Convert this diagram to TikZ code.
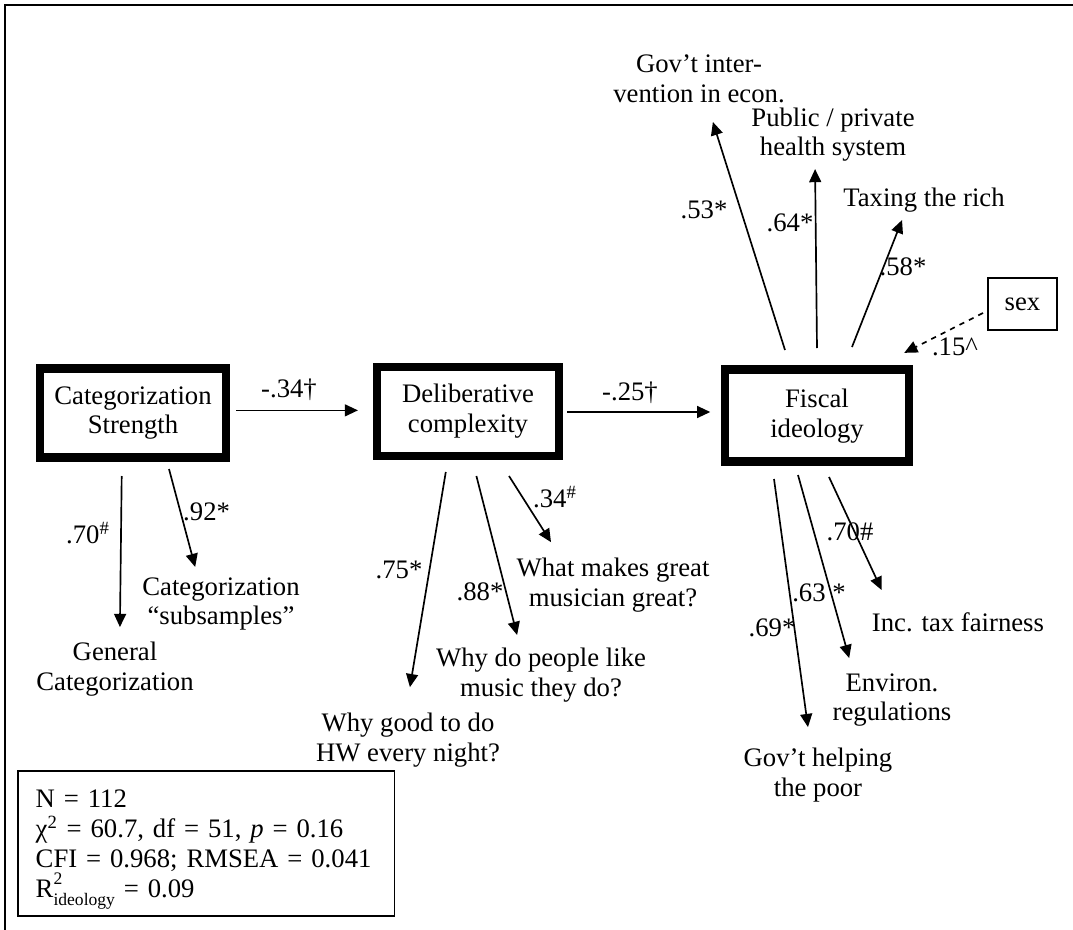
\documentclass[tikz,border=0pt]{standalone}
\usepackage{fontspec}
\setmainfont{Liberation Serif}
\usetikzlibrary{arrows.meta}

\begin{document}
\begin{tikzpicture}[x=0.02cm,y=-0.02cm,font=\fontsize{15.2}{17}\selectfont,
  latent/.style={draw,line width=4.8pt,align=center,inner sep=0pt},
  item/.style={align=center,inner sep=0pt},
  coef/.style={inner sep=0pt},
  arr/.style={-{Triangle[length=7.5pt,width=6.8pt]},line width=0.95pt}]
\useasboundingbox (0,0) rectangle (1073,930);
\draw[line width=1.1pt] (1073,5) -- (5,5) -- (5,930);

% latent variables
\node[latent,minimum width=3.73cm,minimum height=1.78cm] (cat) at (133,413) {Categorization\\Strength};
\node[latent,minimum width=3.63cm,minimum height=1.78cm] (del) at (468,411.5) {Deliberative\\complexity};
\node[latent,minimum width=3.68cm,minimum height=1.84cm] (fis) at (817,415.7) {Fiscal\\ideology};
\node[draw,line width=1pt,minimum width=1.38cm,minimum height=1.04cm] (sex) at (1022.5,304) {sex};

% indicators
\node[item,anchor=north] (gen) at (115,642) {General\\Categorization};
\node[item,anchor=north] (sub) at (221,577) {Categorization\\“subsamples”};
\node[item,anchor=north] (hw) at (408,713) {Why good to do\\HW every night?};
\node[item,anchor=north] (lik) at (541,648) {Why do people like\\music they do?};
\node[item,anchor=north] (grt) at (613,558) {What makes great\\musician great?};
\node[item,anchor=south] (gov) at (699,103) {Gov’t inter-\\vention in econ.};
\node[item,anchor=south] (hea) at (833,162) {Public / private\\health system};
\node[item,anchor=south] (tax) at (924,213) {Taxing the rich};
\node[item,anchor=north] (inc) at (958,612) {Inc. tax fairness};
\node[item,anchor=north] (env) at (892,673) {Environ.\\regulations};
\node[item,anchor=north] (poo) at (818,748) {Gov’t helping\\the poor};

% arrow tails
\coordinate (t25) at (567,412);
\coordinate (t70) at (121.7,476);
\coordinate (t92) at (169,469);
\coordinate (t75) at (445.8,472);
\coordinate (t88) at (476.4,476);
\coordinate (t34) at (509,476);
\coordinate (t53) at (785,350);
\coordinate (t64) at (817,348);
\coordinate (t58) at (852,347);
\coordinate (t15) at (983,313);
\coordinate (t69) at (774,479);
\coordinate (t63) at (798,475);
\coordinate (t70b) at (829,477);

% paths
\draw[arr,shorten <=3.3pt,shorten >=8.6pt] ([yshift=1.5pt]cat.east) -- ([yshift=1.5pt]cat.east -| del.west);
\draw[arr,shorten >=6pt] (t25) -- (t25 -| fis.west);
\draw[arr] (t70) -- ([xshift=2.8pt,yshift=8.5pt]gen.north);
\draw[arr] (t92) -- ([xshift=-14.7pt,yshift=5.7pt]sub.north);
\draw[arr] (t75) -- ([xshift=1.1pt,yshift=14.7pt]hw.north);
\draw[arr] (t88) -- ([xshift=-13.6pt,yshift=7.4pt]lik.north);
\draw[arr] (t34) -- ([xshift=19.8pt,yshift=9pt]grt.north west);
\draw[arr] (t53) -- ([xshift=7.9pt,yshift=-10.8pt]gov.south);
\draw[arr] (t64) -- ([xshift=-10.2pt,yshift=-4pt]hea.south);
\draw[arr] (t58) -- ([xshift=-12.5pt,yshift=-4pt]tax.south);
\draw[arr,dashed] (t15) -- ([xshift=-5.1pt,yshift=7.2pt]fis.north east);
\draw[arr] (t69) -- ([xshift=-5.7pt,yshift=11.9pt]poo.north);
\draw[arr] (t63) -- ([xshift=9.6pt,yshift=8.5pt]env.north west);
\draw[arr] (t70b) -- ([xshift=5.7pt,yshift=12.5pt]inc.north west);

% coefficients
\node[coef] (l34) at (289,390) {-.34†};
\node[coef] (l25) at (630,393) {-.25†};
\node[coef] (l70) at (88,533) {.70\textsuperscript{\#}};
\node[coef] (l92) at (206.6,512) {.92*};
\node[coef] (l75) at (399,570) {.75*};
\node[coef] (l88) at (480,592) {.88*};
\node[coef] (l34b) at (555,497) {.34\textsuperscript{\#}};
\node[coef] (l53) at (704,210) {.53*};
\node[coef] (l64) at (790,223) {.64*};
\node[coef] (l58) at (903,267) {.58*};
\node[coef] (l15) at (955,347) {.15\textasciicircum};
\node[coef] (l69) at (772,628) {.69*};
\node[coef] (l63) at (819,593) {.63 *};
\node[coef] (l70b) at (850,532) {.70\#};

% fit statistics
\node[draw,line width=0.9pt,anchor=north west,align=left,inner xsep=10.2pt,
  text width=6.82cm,minimum height=2.9cm] (fit) at (17,770)
  {\rule{0pt}{17pt}N = 112\\
   χ\textsuperscript{2} = 60.7, df = 51, \textit{p} = 0.16\\
   CFI = 0.968; RMSEA = 0.041\\
   R\rlap{\raisebox{7pt}{\fontsize{10}{10}\selectfont 2}}\raisebox{-4.5pt}{\fontsize{10}{10}\selectfont ideology} = 0.09};
\end{tikzpicture}
\end{document}
